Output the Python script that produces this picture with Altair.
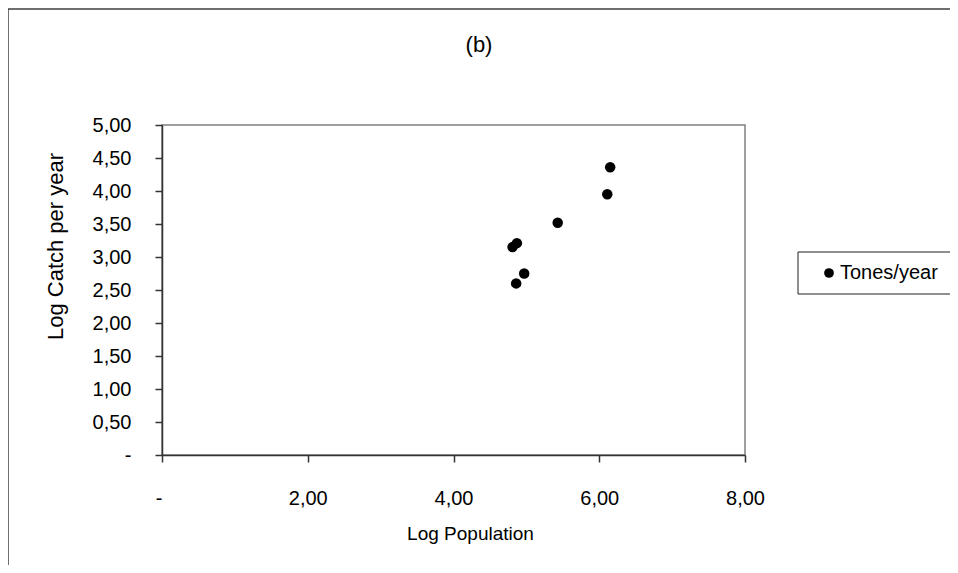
import altair as alt
import pandas as pd

# Data
log_population = [4.81, 4.87, 4.86, 4.97, 5.43, 6.11, 6.15]
log_catch = [3.15, 3.21, 2.60, 2.75, 3.52, 3.95, 4.36]
series_name = "Tones/year"
chart_title = "(b)"
x_ticks = [0, 2, 4, 6, 8]
y_ticks = [0, 0.5, 1, 1.5, 2, 2.5, 3, 3.5, 4, 4.5, 5]

df = pd.DataFrame({
    "pop": log_population,
    "catch": log_catch,
    "series": [series_name] * len(log_population),
})

FONT = "Liberation Sans"
W, H = 583, 330
label_expr = "datum.value == 0 ? '-' : replace(format(datum.value, '.2f'), '.', ',')"

points = alt.Chart(df).mark_circle(size=110, opacity=1).encode(
    x=alt.X("pop:Q",
            scale=alt.Scale(domain=[0, 8], nice=False, zero=True),
            axis=alt.Axis(values=x_ticks, labelExpr=label_expr, title="Log Population",
                          labelAlign={"condition": {"test": "datum.value == 0", "value": "right"},
                                      "value": "center"},
                          labelPadding=26, titleX=308, titleAlign="center",
                          titleY=78, titleBaseline="middle", titleFontSize=19)),
    y=alt.Y("catch:Q",
            scale=alt.Scale(domain=[0, 5], nice=False),
            axis=alt.Axis(values=y_ticks, labelExpr=label_expr, title="Log Catch per year",
                          labelPadding=24, titleX=-107, titleY=121, titleAlign="center",
                          titleBaseline="middle", titleAngle=-90, titleFontSize=22)),
    color=alt.Color("series:N",
                    scale=alt.Scale(domain=[series_name], range=["#000000"]),
                    legend=alt.Legend(title=None, orient="none", legendX=657, legendY=138,
                                      symbolType="circle", symbolSize=95, padding=0,
                                      labelFontSize=20, labelFont=FONT, labelColor="#000000",
                                      labelOffset=1)),
)

title_text = alt.Chart(alt.Data(values=[{"t": chart_title}])).mark_text(
    font=FONT, fontSize=22, color="#000000", align="center", baseline="middle"
).encode(text="t:N", x=alt.value(317), y=alt.value(-80))

outer = alt.Chart(alt.Data(values=[{}])).mark_rect(
    fill="white", fillOpacity=0, stroke="#404040", strokeWidth=1.5
).encode(x=alt.value(-154), x2=alt.value(W + 300), y=alt.value(-116), y2=alt.value(H + 300))

legend_box = alt.Chart(alt.Data(values=[{}])).mark_rect(
    fill="white", fillOpacity=0, stroke="#202020", strokeWidth=1
).encode(x=alt.value(636), x2=alt.value(W + 260), y=alt.value(127), y2=alt.value(169))

chart = alt.layer(outer, legend_box, title_text, points).properties(
    width=W, height=H,
    autosize=alt.AutoSizeParams(type="none"),
    padding={"left": 154, "top": 117, "right": 205, "bottom": 110},
).configure_view(
    stroke="#808080", strokeWidth=1.5
).configure_axis(
    grid=False, domainColor="#333333", domainWidth=1.5, tickColor="#333333", tickWidth=1.5,
    tickSize=7, labelFont=FONT, labelFontSize=20, labelColor="#000000",
    titleFont=FONT, titleFontWeight="normal", titleColor="#000000",
)

chart.save("out.html", embed_options={"renderer": "svg", "actions": False})
